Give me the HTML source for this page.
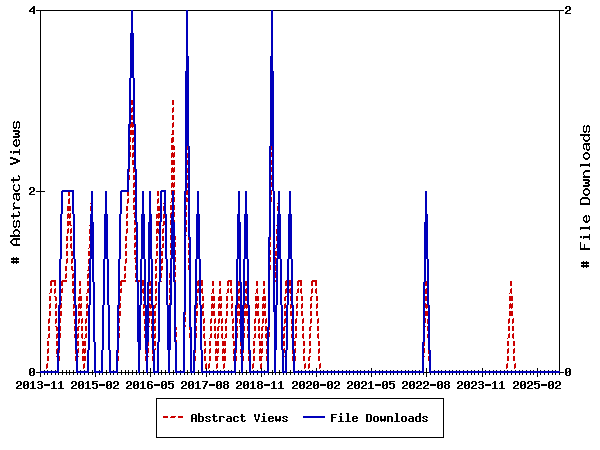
<!DOCTYPE html>
<html lang="en"><head><meta charset="utf-8"><title>Abstract Views and File Downloads per month</title>
<style>
html,body{margin:0;padding:0;background:#fff;}
body{width:600px;height:450px;overflow:hidden;}
svg{display:block;}
text{font-family:"Liberation Mono",monospace;font-weight:bold;font-size:11.67px;fill:#000;fill-opacity:0;stroke:none;}
text.g{font-size:15px;}
</style></head><body>
<svg width="600" height="450" viewBox="0 0 600 450" role="img" aria-label="Line chart: Abstract Views (red dashed) and File Downloads (blue) per month, 2013-11 to 2025-08">
<rect width="600" height="450" fill="#fff"/>
<g shape-rendering="crispEdges">
<path fill="#000" d="M10 241h1v2h-1zM10 151h2v2h-2zM11 240h1v4h-1zM10 157h3v2h-3zM10 163h3v2h-3zM11 179h2v2h-2zM11 215h2v2h-2zM12 239h1v2h-1zM12 243h1v2h-1zM11 258h2v2h-2zM11 261h2v2h-2zM13 122h1v6h-1zM13 141h1v4h-1zM13 151h1v3h-1zM13 177h1v6h-1zM13 185h1v5h-1zM13 194h1v5h-1zM13 203h1v4h-1zM13 208h1v2h-1zM13 213h1v6h-1zM13 221h1v6h-1zM13 231h1v3h-1zM10 235h4v2h-4zM13 257h1v7h-1zM14 121h1v2h-1zM14 140h1v2h-1zM14 144h1v2h-1zM14 184h1v2h-1zM14 189h1v2h-1zM14 198h1v2h-1zM14 202h1v2h-1zM14 206h1v3h-1zM14 220h1v2h-1zM14 230h1v2h-1zM14 234h1v3h-1zM14 127h2v2h-2zM15 139h1v2h-1zM15 145h1v2h-1zM13 158h3v2h-3zM13 162h3v2h-3zM14 193h2v2h-2zM14 226h2v2h-2zM13 238h3v2h-3zM13 244h3v2h-3zM14 258h2v2h-2zM14 261h2v2h-2zM16 122h1v6h-1zM16 139h1v8h-1zM16 193h1v7h-1zM16 221h1v6h-1zM16 238h1v8h-1zM16 257h1v7h-1zM16 382h1v2h-1zM16 387h1v2h-1zM13 130h5v2h-5zM15 133h3v2h-3zM13 136h5v2h-5zM17 145h1v2h-1zM16 159h2v4h-2zM15 190h3v2h-3zM17 193h1v2h-1zM15 229h3v2h-3zM15 235h3v2h-3zM17 381h1v3h-1zM17 386h1v3h-1zM17 121h2v2h-2zM18 127h1v2h-1zM18 130h1v8h-1zM18 139h1v2h-1zM18 144h1v2h-1zM14 151h5v2h-5zM18 175h1v2h-1zM14 179h5v2h-5zM18 184h1v2h-1zM18 189h1v2h-1zM18 193h1v3h-1zM17 199h2v2h-2zM18 211h1v2h-1zM14 215h5v2h-5zM17 220h2v2h-2zM18 226h1v2h-1zM18 230h1v2h-1zM18 234h1v3h-1zM17 258h2v2h-2zM17 261h2v2h-2zM18 385h1v2h-1zM19 122h1v6h-1zM19 131h1v2h-1zM19 135h1v2h-1zM19 140h1v5h-1zM19 149h1v6h-1zM18 160h2v2h-2zM19 176h1v4h-1zM19 185h1v5h-1zM19 193h1v2h-1zM19 196h1v4h-1zM15 207h5v2h-5zM19 212h1v4h-1zM19 221h1v6h-1zM19 231h1v3h-1zM19 235h1v2h-1zM17 238h3v2h-3zM17 244h3v2h-3zM18 381h2v1h-2zM19 385h1v1h-1zM20 381h1v5h-1zM21 382h1v3h-1zM18 388h4v1h-4zM23 382h1v6h-1zM24 381h1v8h-1zM25 385h1v1h-1zM25 381h2v1h-2zM26 384h1v1h-1zM25 388h2v1h-2zM27 381h1v8h-1zM28 382h1v6h-1zM29 10h1v2h-1zM29 188h1v2h-1zM29 193h1v2h-1zM29 369h1v6h-1zM30 9h1v3h-1zM30 187h1v3h-1zM30 192h1v3h-1zM30 368h1v8h-1zM30 383h1v1h-1zM31 8h1v2h-1zM31 191h1v2h-1zM31 372h1v1h-1zM31 382h1v1h-1zM30 388h2v1h-2zM32 7h1v2h-1zM31 11h2v1h-2zM31 187h2v1h-2zM32 191h1v1h-1zM31 368h2v1h-2zM32 371h1v1h-1zM31 375h2v1h-2zM33 187h1v5h-1zM33 368h1v8h-1zM32 381h2v8h-2zM33 6h2v8h-2zM34 188h1v3h-1zM31 194h4v1h-4zM34 369h1v6h-1zM34 388h2v1h-2zM37 382h1v1h-1zM37 387h1v1h-1zM38 381h1v2h-1zM38 387h1v2h-1zM36 10h4v1h-4zM36 191h4v1h-4zM36 372h4v1h-4zM40 10h1v361h-1zM40 373h1v4h-1zM39 381h2v1h-2zM38 384h3v1h-3zM39 388h2v1h-2zM41 381h1v8h-1zM42 382h1v2h-1zM42 385h1v3h-1zM41 191h4v1h-4zM44 370h1v1h-1zM44 373h1v2h-1zM47 370h1v1h-1zM47 373h1v2h-1zM44 384h6v2h-6zM51 370h1v1h-1zM51 373h1v2h-1zM51 383h1v1h-1zM52 382h1v1h-1zM51 388h2v1h-2zM53 381h2v8h-2zM55 370h1v1h-1zM55 373h1v2h-1zM55 388h2v1h-2zM58 373h1v2h-1zM58 383h1v1h-1zM59 382h1v1h-1zM58 388h2v1h-2zM59 372h3v1h-3zM60 381h2v8h-2zM62 370h1v5h-1zM62 388h2v1h-2zM63 372h3v1h-3zM66 370h1v5h-1zM67 372h2v1h-2zM69 370h1v5h-1zM71 382h1v2h-1zM71 387h1v2h-1zM70 372h3v1h-3zM72 381h1v3h-1zM72 386h1v3h-1zM73 370h1v5h-1zM73 385h1v2h-1zM73 381h2v1h-2zM74 385h1v1h-1zM74 372h2v1h-2zM75 381h1v5h-1zM76 382h1v3h-1zM73 388h4v1h-4zM77 373h1v2h-1zM78 382h1v6h-1zM79 381h1v8h-1zM80 370h1v1h-1zM80 373h1v2h-1zM80 385h1v1h-1zM80 381h2v1h-2zM81 384h1v1h-1zM80 388h2v1h-2zM82 381h1v8h-1zM83 382h1v6h-1zM84 370h1v1h-1zM84 373h1v2h-1zM85 383h1v1h-1zM86 382h1v1h-1zM85 388h2v1h-2zM88 373h1v2h-1zM87 381h2v8h-2zM89 388h2v1h-2zM89 372h3v1h-3zM92 370h1v5h-1zM92 387h1v1h-1zM93 372h1v1h-1zM92 381h2v4h-2zM93 387h1v2h-1zM95 373h1v4h-1zM94 383h2v1h-2zM94 388h2v1h-2zM96 383h1v6h-1zM94 381h4v1h-4zM97 384h1v4h-1zM99 370h1v1h-1zM99 373h1v2h-1zM102 373h1v2h-1zM99 384h6v2h-6zM103 372h3v1h-3zM106 370h1v5h-1zM106 382h1v6h-1zM107 381h1v8h-1zM107 372h2v1h-2zM108 385h1v1h-1zM108 381h2v1h-2zM109 384h1v1h-1zM108 388h2v1h-2zM110 373h1v2h-1zM110 381h1v8h-1zM111 382h1v6h-1zM113 370h1v1h-1zM113 373h1v2h-1zM113 382h1v2h-1zM113 387h1v2h-1zM114 381h1v3h-1zM114 386h1v3h-1zM115 385h1v2h-1zM115 381h2v1h-2zM116 385h1v1h-1zM117 373h1v2h-1zM117 381h1v5h-1zM118 382h1v3h-1zM115 388h4v1h-4zM118 372h3v1h-3zM121 370h1v5h-1zM122 372h3v1h-3zM125 370h1v5h-1zM126 382h1v2h-1zM126 387h1v2h-1zM126 372h2v1h-2zM127 381h1v3h-1zM127 386h1v3h-1zM128 370h1v5h-1zM128 385h1v2h-1zM128 381h2v1h-2zM129 385h1v1h-1zM41 10h90v1h-90zM130 381h1v5h-1zM129 372h3v1h-3zM131 382h1v3h-1zM128 388h4v1h-4zM132 370h1v5h-1zM133 382h1v6h-1zM134 381h1v8h-1zM133 372h3v1h-3zM135 385h1v1h-1zM136 370h1v5h-1zM135 381h2v1h-2zM136 384h1v1h-1zM135 388h2v1h-2zM137 372h1v1h-1zM137 381h1v8h-1zM138 382h1v6h-1zM139 373h1v2h-1zM140 383h1v1h-1zM141 382h1v1h-1zM140 388h2v1h-2zM140 372h3v1h-3zM143 370h1v5h-1zM142 381h2v8h-2zM144 372h2v1h-2zM144 388h2v1h-2zM147 373h1v2h-1zM147 382h1v6h-1zM148 381h1v8h-1zM148 372h2v1h-2zM150 368h1v9h-1zM149 381h2v1h-2zM149 384h2v1h-2zM149 388h2v1h-2zM151 381h1v2h-1zM151 384h1v5h-1zM151 372h2v1h-2zM152 382h1v1h-1zM152 385h1v3h-1zM154 373h1v2h-1zM156 398h1v40h-1zM158 373h1v2h-1zM154 384h6v2h-6zM159 372h2v1h-2zM161 370h1v5h-1zM161 382h1v6h-1zM162 381h1v8h-1zM163 385h1v1h-1zM162 372h3v1h-3zM163 381h2v1h-2zM164 384h1v1h-1zM163 388h2v1h-2zM165 370h1v5h-1zM165 381h1v8h-1zM166 382h1v6h-1zM166 372h2v1h-2zM168 387h1v1h-1zM169 373h1v2h-1zM168 381h2v4h-2zM169 387h1v2h-1zM170 383h2v1h-2zM170 388h2v1h-2zM170 372h3v1h-3zM172 383h1v6h-1zM173 370h1v5h-1zM170 381h4v1h-4zM173 384h1v4h-1zM174 372h1v1h-1zM176 373h1v2h-1zM180 370h1v1h-1zM180 373h1v2h-1zM181 382h1v2h-1zM181 387h1v2h-1zM182 381h1v3h-1zM182 386h1v3h-1zM183 385h1v2h-1zM184 373h1v2h-1zM183 381h2v1h-2zM184 385h1v1h-1zM133 10h53v1h-53zM185 381h1v5h-1zM185 372h2v1h-2zM186 382h1v3h-1zM183 388h4v1h-4zM187 370h1v5h-1zM188 382h1v6h-1zM188 372h2v1h-2zM189 381h1v8h-1zM190 385h1v1h-1zM191 373h1v2h-1zM190 381h2v1h-2zM191 384h1v1h-1zM190 388h2v1h-2zM191 415h1v7h-1zM192 381h1v8h-1zM192 414h1v8h-1zM193 382h1v6h-1zM194 373h1v2h-1zM193 414h2v1h-2zM193 418h2v1h-2zM195 383h1v1h-1zM195 414h1v8h-1zM196 382h1v1h-1zM195 388h2v1h-2zM196 415h1v7h-1zM195 372h3v1h-3zM198 370h1v5h-1zM197 381h2v8h-2zM198 413h2v9h-2zM199 372h2v1h-2zM199 388h2v1h-2zM200 416h2v1h-2zM200 421h2v1h-2zM202 373h1v2h-1zM202 416h1v6h-1zM203 387h1v2h-1zM203 417h1v4h-1zM204 385h1v4h-1zM202 381h4v1h-4zM205 383h1v4h-1zM205 417h1v1h-1zM205 420h1v1h-1zM206 368h1v3h-1zM206 373h1v4h-1zM206 381h1v4h-1zM206 416h1v3h-1zM206 420h1v2h-1zM207 381h1v2h-1zM207 418h1v1h-1zM207 416h2v1h-2zM208 419h1v1h-1zM207 421h2v1h-2zM209 370h1v1h-1zM209 373h1v2h-1zM209 416h1v2h-1zM209 419h1v3h-1zM210 417h1v1h-1zM210 420h1v1h-1zM212 416h1v1h-1zM213 370h1v1h-1zM213 373h1v2h-1zM213 414h1v7h-1zM209 384h6v2h-6zM214 414h1v8h-1zM215 421h1v1h-1zM216 382h1v6h-1zM215 416h2v1h-2zM216 420h1v2h-1zM217 370h1v1h-1zM217 373h1v2h-1zM217 381h1v8h-1zM217 420h1v1h-1zM218 385h1v1h-1zM218 381h2v1h-2zM219 384h1v1h-1zM218 388h2v1h-2zM220 370h1v1h-1zM220 373h1v2h-1zM220 381h1v8h-1zM219 416h2v6h-2zM221 382h1v6h-1zM221 416h2v1h-2zM223 382h1v2h-1zM223 385h1v3h-1zM223 416h1v2h-1zM224 370h1v1h-1zM224 373h1v2h-1zM224 381h1v8h-1zM224 417h1v1h-1zM225 381h2v1h-2zM225 384h2v1h-2zM225 388h2v1h-2zM226 419h1v2h-1zM227 381h1v8h-1zM227 418h1v4h-1zM228 370h1v1h-1zM228 373h1v2h-1zM228 382h1v2h-1zM228 385h1v3h-1zM227 416h3v1h-3zM228 418h2v1h-2zM228 421h2v1h-2zM230 416h1v6h-1zM231 370h1v1h-1zM231 373h1v2h-1zM231 417h1v5h-1zM233 417h1v4h-1zM234 416h1v6h-1zM235 373h1v2h-1zM236 382h1v2h-1zM236 387h1v2h-1zM235 416h2v1h-2zM235 421h2v1h-2zM237 381h1v3h-1zM237 386h1v3h-1zM237 416h1v2h-1zM237 420h1v2h-1zM236 372h3v1h-3zM238 385h1v2h-1zM238 417h1v1h-1zM238 420h1v1h-1zM239 370h1v5h-1zM238 381h2v1h-2zM239 385h1v1h-1zM240 372h1v1h-1zM240 381h1v5h-1zM240 416h1v1h-1zM241 382h1v3h-1zM238 388h4v1h-4zM241 414h1v7h-1zM242 373h1v2h-1zM242 414h1v8h-1zM243 382h1v6h-1zM243 421h1v1h-1zM244 381h1v8h-1zM243 416h2v1h-2zM244 420h1v2h-1zM243 372h3v1h-3zM245 385h1v1h-1zM245 420h1v1h-1zM246 370h1v5h-1zM245 381h2v1h-2zM246 384h1v1h-1zM245 388h2v1h-2zM247 381h1v8h-1zM247 372h2v1h-2zM248 382h1v6h-1zM250 373h1v2h-1zM250 383h1v1h-1zM251 382h1v1h-1zM250 388h2v1h-2zM253 370h1v1h-1zM253 373h1v2h-1zM252 381h2v8h-2zM254 414h1v3h-1zM254 388h2v1h-2zM255 414h1v6h-1zM257 370h1v1h-1zM257 373h1v2h-1zM257 382h1v2h-1zM257 385h1v3h-1zM256 419h2v3h-2zM258 381h1v8h-1zM258 414h1v6h-1zM259 414h1v3h-1zM259 381h2v1h-2zM259 384h2v1h-2zM259 388h2v1h-2zM261 368h1v3h-1zM261 373h1v4h-1zM261 381h1v8h-1zM262 382h1v2h-1zM262 385h1v3h-1zM262 416h1v1h-1zM261 421h2v1h-2zM264 370h1v1h-1zM264 373h1v2h-1zM263 413h2v2h-2zM263 416h2v6h-2zM265 421h2v1h-2zM268 373h1v2h-1zM268 417h1v4h-1zM264 384h6v2h-6zM269 416h1v6h-1zM188 10h83v1h-83zM269 372h3v1h-3zM271 383h1v1h-1zM270 416h2v1h-2zM270 418h2v1h-2zM270 421h2v1h-2zM272 370h1v5h-1zM272 382h1v1h-1zM271 388h2v1h-2zM272 416h1v3h-1zM272 420h1v2h-1zM273 372h1v1h-1zM273 417h1v2h-1zM273 420h1v1h-1zM273 381h2v8h-2zM275 373h1v2h-1zM275 416h1v5h-1zM275 388h2v1h-2zM276 416h1v6h-1zM276 372h3v1h-3zM278 383h1v1h-1zM277 419h2v2h-2zM279 370h1v5h-1zM279 382h1v1h-1zM278 388h2v1h-2zM279 416h1v6h-1zM280 416h1v5h-1zM280 372h2v1h-2zM280 381h2v8h-2zM282 417h1v1h-1zM282 420h1v1h-1zM283 373h1v2h-1zM282 388h2v1h-2zM283 416h1v3h-1zM283 420h1v2h-1zM284 418h1v1h-1zM284 416h2v1h-2zM285 419h1v1h-1zM284 421h2v1h-2zM286 373h1v2h-1zM286 416h1v2h-1zM286 419h1v3h-1zM287 417h1v1h-1zM287 420h1v1h-1zM287 372h3v1h-3zM290 370h1v5h-1zM291 372h2v1h-2zM292 382h1v2h-1zM292 387h1v2h-1zM293 381h1v3h-1zM293 386h1v3h-1zM294 373h1v2h-1zM294 385h1v2h-1zM294 381h2v1h-2zM295 385h1v1h-1zM296 381h1v5h-1zM297 382h1v3h-1zM294 388h4v1h-4zM298 370h1v1h-1zM298 373h1v2h-1zM299 382h1v6h-1zM300 381h1v8h-1zM301 370h1v1h-1zM301 373h1v2h-1zM301 385h1v1h-1zM301 381h2v1h-2zM302 384h1v1h-1zM301 388h2v1h-2zM303 381h1v8h-1zM304 382h1v6h-1zM305 370h1v1h-1zM305 373h1v2h-1zM306 382h1v2h-1zM306 387h1v2h-1zM307 381h1v3h-1zM307 386h1v3h-1zM308 385h1v2h-1zM309 370h1v1h-1zM309 373h1v2h-1zM308 381h2v1h-2zM309 385h1v1h-1zM310 381h1v5h-1zM311 382h1v3h-1zM308 388h4v1h-4zM312 370h1v1h-1zM312 373h1v2h-1zM313 382h1v6h-1zM314 381h1v8h-1zM315 385h1v1h-1zM316 368h1v3h-1zM316 373h1v4h-1zM315 381h2v1h-2zM316 384h1v1h-1zM315 388h2v1h-2zM317 381h1v8h-1zM318 382h1v6h-1zM320 370h1v1h-1zM320 373h1v2h-1zM323 370h1v1h-1zM323 373h1v2h-1zM320 384h6v2h-6zM327 370h1v1h-1zM327 373h1v2h-1zM327 382h1v6h-1zM328 381h1v8h-1zM329 385h1v1h-1zM329 381h2v1h-2zM330 384h1v1h-1zM329 388h2v1h-2zM331 370h1v1h-1zM331 373h1v2h-1zM331 381h1v8h-1zM332 382h1v6h-1zM331 414h2v8h-2zM334 370h1v1h-1zM334 373h1v2h-1zM334 382h1v2h-1zM334 387h1v2h-1zM335 381h1v3h-1zM335 386h1v3h-1zM333 417h3v1h-3zM336 385h1v2h-1zM333 414h4v1h-4zM336 381h2v1h-2zM337 385h1v1h-1zM338 370h1v1h-1zM338 373h1v2h-1zM338 381h1v5h-1zM339 382h1v3h-1zM336 388h4v1h-4zM339 416h1v1h-1zM338 421h2v1h-2zM340 413h2v2h-2zM340 416h2v6h-2zM342 370h1v1h-1zM342 373h1v2h-1zM342 421h2v1h-2zM346 370h1v1h-1zM346 373h1v2h-1zM346 413h1v1h-1zM345 421h2v1h-2zM347 382h1v2h-1zM347 387h1v2h-1zM348 381h1v3h-1zM348 386h1v3h-1zM347 413h2v9h-2zM349 370h1v1h-1zM349 373h1v2h-1zM349 385h1v2h-1zM349 381h2v1h-2zM350 385h1v1h-1zM349 421h2v1h-2zM351 381h1v5h-1zM352 382h1v3h-1zM349 388h4v1h-4zM352 417h1v4h-1zM353 370h1v1h-1zM353 373h1v2h-1zM353 416h1v6h-1zM354 382h1v6h-1zM355 381h1v8h-1zM354 416h2v1h-2zM354 418h2v1h-2zM354 421h2v1h-2zM356 385h1v1h-1zM356 416h1v3h-1zM356 420h1v2h-1zM357 370h1v1h-1zM357 373h1v2h-1zM356 381h2v1h-2zM357 384h1v1h-1zM356 388h2v1h-2zM357 417h1v2h-1zM357 420h1v1h-1zM358 381h1v8h-1zM359 382h1v6h-1zM360 370h1v1h-1zM360 373h1v2h-1zM361 382h1v2h-1zM361 387h1v2h-1zM362 381h1v3h-1zM362 386h1v3h-1zM363 385h1v2h-1zM364 370h1v1h-1zM364 373h1v2h-1zM363 381h2v1h-2zM364 385h1v1h-1zM365 381h1v5h-1zM366 382h1v3h-1zM363 388h4v1h-4zM366 414h2v8h-2zM368 370h1v1h-1zM368 373h1v2h-1zM368 383h1v1h-1zM369 382h1v1h-1zM368 388h2v1h-2zM368 414h2v1h-2zM368 421h2v1h-2zM370 414h1v8h-1zM371 368h1v3h-1zM371 373h1v4h-1zM370 381h2v8h-2zM371 415h1v6h-1zM372 388h2v1h-2zM373 417h1v4h-1zM374 416h1v6h-1zM375 370h1v1h-1zM375 373h1v2h-1zM375 416h2v1h-2zM375 421h2v1h-2zM377 416h1v6h-1zM378 417h1v4h-1zM379 370h1v1h-1zM379 373h1v2h-1zM375 384h6v2h-6zM380 416h1v5h-1zM381 416h1v6h-1zM382 370h1v1h-1zM382 373h1v2h-1zM382 382h1v6h-1zM383 381h1v8h-1zM382 419h2v2h-2zM384 385h1v1h-1zM384 416h1v6h-1zM384 381h2v1h-2zM385 384h1v1h-1zM384 388h2v1h-2zM385 416h1v5h-1zM386 370h1v1h-1zM386 373h1v2h-1zM386 381h1v8h-1zM387 382h1v6h-1zM387 416h2v6h-2zM389 387h1v1h-1zM390 370h1v1h-1zM390 373h1v2h-1zM389 381h2v4h-2zM390 387h1v2h-1zM389 416h2v1h-2zM391 416h1v6h-1zM391 383h2v1h-2zM391 388h2v1h-2zM392 417h1v5h-1zM393 370h1v1h-1zM393 373h1v2h-1zM393 383h1v6h-1zM391 381h4v1h-4zM394 384h1v4h-1zM395 413h1v1h-1zM394 421h2v1h-2zM397 370h1v1h-1zM397 373h1v2h-1zM396 413h2v9h-2zM398 421h2v1h-2zM401 370h1v1h-1zM401 373h1v2h-1zM401 417h1v4h-1zM402 382h1v2h-1zM402 387h1v2h-1zM402 416h1v6h-1zM403 381h1v3h-1zM403 386h1v3h-1zM404 385h1v2h-1zM403 416h2v1h-2zM403 421h2v1h-2zM405 370h1v1h-1zM405 373h1v2h-1zM404 381h2v1h-2zM405 385h1v1h-1zM405 416h1v6h-1zM406 381h1v5h-1zM406 417h1v4h-1zM407 382h1v3h-1zM404 388h4v1h-4zM408 370h1v1h-1zM408 373h1v2h-1zM408 419h1v2h-1zM409 382h1v6h-1zM409 418h1v4h-1zM410 381h1v8h-1zM411 385h1v1h-1zM409 416h3v1h-3zM410 418h2v1h-2zM410 421h2v1h-2zM412 370h1v1h-1zM412 373h1v2h-1zM411 381h2v1h-2zM412 384h1v1h-1zM411 388h2v1h-2zM412 416h1v6h-1zM413 381h1v8h-1zM413 417h1v5h-1zM414 382h1v6h-1zM415 370h1v1h-1zM415 373h1v2h-1zM415 417h1v4h-1zM416 382h1v2h-1zM416 387h1v2h-1zM416 416h1v6h-1zM417 381h1v3h-1zM417 386h1v3h-1zM418 385h1v2h-1zM417 416h2v1h-2zM417 421h2v1h-2zM419 370h1v1h-1zM419 373h1v2h-1zM418 381h2v1h-2zM419 385h1v1h-1zM420 381h1v5h-1zM419 413h2v9h-2zM421 382h1v3h-1zM418 388h4v1h-4zM422 417h1v1h-1zM422 420h1v1h-1zM423 373h1v2h-1zM423 382h1v2h-1zM423 387h1v2h-1zM423 416h1v3h-1zM423 420h1v2h-1zM424 381h1v3h-1zM424 386h1v3h-1zM424 418h1v1h-1zM424 372h2v1h-2zM425 385h1v2h-1zM424 416h2v1h-2zM425 419h1v1h-1zM424 421h2v1h-2zM426 368h1v9h-1zM425 381h2v1h-2zM426 385h1v1h-1zM426 416h1v2h-1zM426 419h1v3h-1zM427 381h1v5h-1zM427 417h1v1h-1zM427 420h1v1h-1zM427 372h2v1h-2zM428 382h1v3h-1zM425 388h4v1h-4zM430 373h1v2h-1zM434 370h1v1h-1zM434 373h1v2h-1zM430 384h6v2h-6zM437 382h1v6h-1zM438 370h1v1h-1zM438 373h1v2h-1zM438 381h1v8h-1zM439 385h1v1h-1zM439 381h2v1h-2zM440 384h1v1h-1zM439 388h2v1h-2zM441 370h1v1h-1zM441 373h1v2h-1zM441 381h1v8h-1zM442 382h1v6h-1zM157 398h286v1h-286zM157 437h286v1h-286zM443 398h1v40h-1zM444 382h1v2h-1zM444 385h1v3h-1zM445 370h1v1h-1zM445 373h1v2h-1zM445 381h1v8h-1zM446 381h2v1h-2zM446 384h2v1h-2zM446 388h2v1h-2zM448 381h1v8h-1zM449 370h1v1h-1zM449 373h1v2h-1zM449 382h1v2h-1zM449 385h1v3h-1zM452 370h1v1h-1zM452 373h1v2h-1zM456 370h1v1h-1zM456 373h1v2h-1zM457 382h1v2h-1zM457 387h1v2h-1zM458 381h1v3h-1zM458 386h1v3h-1zM459 370h1v1h-1zM459 373h1v2h-1zM459 385h1v2h-1zM459 381h2v1h-2zM460 385h1v1h-1zM461 381h1v5h-1zM462 382h1v3h-1zM459 388h4v1h-4zM463 370h1v1h-1zM463 373h1v2h-1zM464 382h1v6h-1zM465 381h1v8h-1zM466 385h1v1h-1zM467 370h1v1h-1zM467 373h1v2h-1zM466 381h2v1h-2zM467 384h1v1h-1zM466 388h2v1h-2zM468 381h1v8h-1zM469 382h1v6h-1zM471 370h1v1h-1zM471 373h1v2h-1zM471 382h1v2h-1zM471 387h1v2h-1zM472 381h1v3h-1zM472 386h1v3h-1zM473 385h1v2h-1zM474 370h1v1h-1zM474 373h1v2h-1zM473 381h2v1h-2zM474 385h1v1h-1zM475 381h1v5h-1zM476 382h1v3h-1zM473 388h4v1h-4zM478 370h1v1h-1zM478 373h1v2h-1zM478 382h1v1h-1zM478 387h1v1h-1zM479 381h1v2h-1zM479 387h1v2h-1zM480 381h2v1h-2zM479 384h3v1h-3zM480 388h2v1h-2zM482 368h1v3h-1zM482 373h1v4h-1zM482 381h1v8h-1zM483 382h1v2h-1zM483 385h1v3h-1zM485 370h1v1h-1zM485 373h1v2h-1zM489 370h1v1h-1zM489 373h1v2h-1zM485 384h6v2h-6zM492 383h1v1h-1zM493 370h1v1h-1zM493 373h1v2h-1zM493 382h1v1h-1zM492 388h2v1h-2zM494 381h2v8h-2zM496 370h1v1h-1zM496 373h1v2h-1zM496 388h2v1h-2zM499 383h1v1h-1zM500 370h1v1h-1zM500 373h1v2h-1zM500 382h1v1h-1zM499 388h2v1h-2zM501 381h2v8h-2zM504 370h1v1h-1zM504 373h1v2h-1zM503 388h2v1h-2zM507 370h1v1h-1zM507 373h1v2h-1zM511 370h1v1h-1zM511 373h1v2h-1zM513 382h1v2h-1zM513 387h1v2h-1zM514 381h1v3h-1zM514 386h1v3h-1zM515 370h1v1h-1zM515 373h1v2h-1zM515 385h1v2h-1zM515 381h2v1h-2zM516 385h1v1h-1zM517 381h1v5h-1zM518 382h1v3h-1zM515 388h4v1h-4zM519 370h1v1h-1zM519 373h1v2h-1zM520 382h1v6h-1zM521 381h1v8h-1zM522 370h1v1h-1zM522 373h1v2h-1zM522 385h1v1h-1zM522 381h2v1h-2zM523 384h1v1h-1zM522 388h2v1h-2zM524 381h1v8h-1zM525 382h1v6h-1zM526 370h1v1h-1zM526 373h1v2h-1zM527 382h1v2h-1zM527 387h1v2h-1zM528 381h1v3h-1zM528 386h1v3h-1zM529 385h1v2h-1zM530 370h1v1h-1zM530 373h1v2h-1zM529 381h2v1h-2zM530 385h1v1h-1zM531 381h1v5h-1zM532 382h1v3h-1zM529 388h4v1h-4zM533 370h1v1h-1zM533 373h1v2h-1zM534 387h1v1h-1zM534 381h2v4h-2zM535 387h1v2h-1zM537 368h1v3h-1zM537 373h1v4h-1zM536 383h2v1h-2zM536 388h2v1h-2zM538 383h1v6h-1zM536 381h4v1h-4zM539 384h1v4h-1zM540 370h1v1h-1zM540 373h1v2h-1zM544 370h1v1h-1zM544 373h1v2h-1zM541 384h6v2h-6zM548 370h1v1h-1zM548 373h1v2h-1zM548 382h1v6h-1zM549 381h1v8h-1zM550 385h1v1h-1zM550 381h2v1h-2zM551 384h1v1h-1zM550 388h2v1h-2zM552 370h1v1h-1zM552 373h1v2h-1zM552 381h1v8h-1zM553 382h1v6h-1zM555 370h1v1h-1zM555 373h1v2h-1zM555 382h1v2h-1zM555 387h1v2h-1zM556 381h1v3h-1zM556 386h1v3h-1zM557 385h1v2h-1zM273 10h286v1h-286zM557 381h2v1h-2zM558 385h1v1h-1zM559 10h1v361h-1zM559 373h1v2h-1zM559 381h1v5h-1zM560 382h1v3h-1zM557 388h4v1h-4zM560 10h4v1h-4zM560 372h4v1h-4zM565 7h1v2h-1zM565 12h1v2h-1zM565 369h1v6h-1zM566 6h1v3h-1zM566 11h1v3h-1zM566 368h1v8h-1zM567 10h1v2h-1zM567 372h1v1h-1zM567 6h2v1h-2zM568 10h1v1h-1zM567 368h2v1h-2zM568 371h1v1h-1zM567 375h2v1h-2zM569 6h1v5h-1zM569 368h1v8h-1zM570 7h1v3h-1zM567 13h4v1h-4zM570 369h1v6h-1zM580 164h1v3h-1zM580 199h1v6h-1zM580 227h1v3h-1zM580 242h1v8h-1zM581 198h1v2h-1zM580 236h2v2h-2zM581 262h2v2h-2zM581 265h2v2h-2zM583 126h1v6h-1zM580 134h4v2h-4zM583 137h1v3h-1zM583 144h1v5h-1zM583 154h1v4h-1zM583 172h1v3h-1zM583 176h1v2h-1zM583 190h1v4h-1zM583 217h1v4h-1zM583 236h1v3h-1zM581 248h3v2h-3zM583 261h1v7h-1zM584 125h1v2h-1zM584 134h1v3h-1zM584 139h1v2h-1zM584 148h1v2h-1zM584 153h1v2h-1zM584 157h1v2h-1zM584 171h1v2h-1zM584 175h1v3h-1zM584 189h1v2h-1zM584 193h1v2h-1zM584 216h1v2h-1zM584 220h1v2h-1zM584 244h1v6h-1zM584 131h2v2h-2zM584 143h2v2h-2zM585 215h1v2h-1zM585 221h1v2h-1zM584 262h2v2h-2zM584 265h2v2h-2zM586 126h1v6h-1zM586 143h1v7h-1zM586 215h1v8h-1zM586 261h1v7h-1zM585 134h3v2h-3zM585 140h3v2h-3zM587 143h1v2h-1zM585 152h3v2h-3zM585 158h3v2h-3zM583 179h5v2h-5zM585 182h3v2h-3zM583 185h5v2h-5zM585 188h3v2h-3zM585 194h3v2h-3zM582 197h6v2h-6zM587 221h1v2h-1zM587 125h2v2h-2zM588 131h1v2h-1zM588 134h1v3h-1zM588 139h1v2h-1zM588 143h1v3h-1zM587 149h2v2h-2zM588 153h1v2h-1zM588 157h1v2h-1zM581 164h8v2h-8zM588 179h1v8h-1zM588 189h1v2h-1zM588 193h1v2h-1zM588 198h1v2h-1zM581 203h8v2h-8zM588 215h1v2h-1zM588 220h1v2h-1zM581 227h8v2h-8zM584 236h5v2h-5zM587 262h2v2h-2zM587 265h2v2h-2zM589 126h1v6h-1zM589 134h1v2h-1zM589 137h1v3h-1zM589 143h1v2h-1zM589 146h1v4h-1zM589 154h1v4h-1zM589 163h1v4h-1zM585 170h5v2h-5zM585 176h5v2h-5zM589 180h1v2h-1zM589 184h1v2h-1zM589 190h1v4h-1zM589 199h1v6h-1zM589 216h1v5h-1zM589 226h1v4h-1zM589 234h1v6h-1zM585 248h5v2h-5z"/>
<path fill="#cc0000" d="M46 364h1v5h-1zM47 338h1v1h-1zM47 349h1v5h-1zM47 363h1v5h-1zM48 319h1v5h-1zM48 334h1v4h-1zM47 341h2v5h-2zM48 348h1v5h-1zM47 356h2v5h-2zM49 293h1v1h-1zM49 304h1v5h-1zM49 318h1v5h-1zM48 326h2v5h-2zM49 333h1v5h-1zM50 281h1v5h-1zM50 289h1v4h-1zM49 296h2v5h-2zM50 303h1v5h-1zM49 311h2v5h-2zM51 280h1v6h-1zM51 288h1v5h-1zM52 280h2v2h-2zM54 289h1v5h-1zM54 296h1v1h-1zM54 280h2v6h-2zM55 288h1v5h-1zM55 296h1v5h-1zM55 304h1v5h-1zM55 319h1v5h-1zM55 326h1v1h-1zM56 297h1v4h-1zM56 303h1v5h-1zM55 311h2v5h-2zM56 318h1v5h-1zM56 326h1v5h-1zM56 334h1v5h-1zM56 349h1v5h-1zM56 356h1v1h-1zM57 327h1v4h-1zM57 333h1v5h-1zM56 341h2v5h-2zM57 348h1v2h-1zM59 350h1v3h-1zM59 356h1v5h-1zM60 305h1v4h-1zM60 318h1v5h-1zM60 326h1v5h-1zM60 333h1v5h-1zM61 281h1v5h-1zM61 289h1v4h-1zM61 296h1v5h-1zM61 303h1v5h-1zM60 311h2v5h-2zM62 280h1v6h-1zM62 288h1v5h-1zM65 274h1v5h-1zM66 244h1v5h-1zM66 259h1v5h-1zM65 266h2v5h-2zM66 273h1v5h-1zM63 280h4v2h-4zM67 214h1v5h-1zM67 229h1v5h-1zM66 236h2v5h-2zM67 243h1v5h-1zM66 251h2v5h-2zM67 258h1v5h-1zM68 199h1v5h-1zM68 213h1v5h-1zM67 221h2v5h-2zM68 228h1v5h-1zM68 192h2v4h-2zM69 198h1v6h-1zM69 214h1v5h-1zM69 221h1v4h-1zM67 206h4v5h-4zM70 213h1v5h-1zM70 221h1v5h-1zM70 229h1v5h-1zM70 244h1v4h-1zM71 225h1v1h-1zM71 228h1v5h-1zM70 236h2v5h-2zM71 243h1v6h-1zM71 259h1v5h-1zM71 266h1v4h-1zM71 251h2v5h-2zM72 258h1v5h-1zM72 266h1v5h-1zM72 274h1v5h-1zM72 289h1v4h-1zM73 270h1v1h-1zM73 273h1v5h-1zM72 281h2v5h-2zM73 288h1v6h-1zM73 296h1v5h-1zM73 304h1v5h-1zM74 305h1v3h-1zM73 311h2v5h-2zM74 319h1v5h-1zM74 326h1v5h-1zM74 334h1v4h-1zM75 350h1v4h-1zM75 356h1v5h-1zM77 327h1v4h-1zM77 334h1v5h-1zM77 349h1v1h-1zM78 297h1v4h-1zM78 304h1v5h-1zM78 319h1v5h-1zM78 326h1v5h-1zM78 333h1v5h-1zM77 341h2v5h-2zM78 348h1v5h-1zM78 356h1v1h-1zM79 289h1v5h-1zM79 303h1v5h-1zM79 318h1v5h-1zM79 326h1v1h-1zM79 281h2v5h-2zM80 288h1v6h-1zM80 304h1v5h-1zM79 296h3v5h-3zM81 303h1v5h-1zM78 311h4v5h-4zM81 319h1v5h-1zM81 334h1v4h-1zM82 318h1v5h-1zM81 326h2v5h-2zM82 333h1v6h-1zM82 349h1v5h-1zM83 348h1v5h-1zM83 364h1v5h-1zM84 338h1v1h-1zM84 349h1v5h-1zM84 363h1v5h-1zM85 319h1v5h-1zM85 334h1v4h-1zM82 341h4v5h-4zM85 348h1v5h-1zM82 356h4v5h-4zM86 293h1v1h-1zM86 304h1v5h-1zM86 318h1v5h-1zM85 326h2v5h-2zM86 333h1v5h-1zM87 270h1v1h-1zM87 274h1v5h-1zM87 289h1v4h-1zM86 296h2v5h-2zM87 303h1v5h-1zM86 311h2v5h-2zM88 248h1v1h-1zM88 259h1v5h-1zM88 266h1v5h-1zM88 273h1v5h-1zM87 281h2v5h-2zM88 288h1v5h-1zM89 225h1v1h-1zM89 229h1v5h-1zM89 236h1v5h-1zM89 244h1v4h-1zM88 251h2v5h-2zM89 258h1v1h-1zM90 203h1v1h-1zM90 206h1v5h-1zM118 350h1v3h-1zM118 356h1v5h-1zM119 305h1v4h-1zM119 318h1v5h-1zM119 326h1v5h-1zM119 333h1v5h-1zM120 281h1v5h-1zM120 289h1v4h-1zM120 296h1v5h-1zM120 303h1v5h-1zM119 311h2v5h-2zM121 280h1v6h-1zM121 288h1v5h-1zM124 274h1v5h-1zM125 244h1v5h-1zM125 259h1v5h-1zM124 266h2v5h-2zM125 273h1v5h-1zM122 280h4v2h-4zM126 214h1v5h-1zM126 229h1v5h-1zM125 236h2v5h-2zM126 243h1v5h-1zM125 251h2v5h-2zM126 258h1v5h-1zM127 199h1v5h-1zM126 206h2v5h-2zM127 213h1v5h-1zM126 221h2v5h-2zM127 228h1v5h-1zM127 192h2v4h-2zM128 198h1v5h-1zM129 169h1v3h-1zM129 175h1v5h-1zM130 124h1v4h-1zM130 137h1v5h-1zM130 145h1v5h-1zM130 152h1v5h-1zM131 108h1v5h-1zM131 122h1v5h-1zM131 100h2v5h-2zM132 107h1v5h-1zM131 115h2v5h-2zM132 122h1v6h-1zM132 138h1v5h-1zM132 153h1v5h-1zM133 124h1v3h-1zM130 130h4v5h-4zM133 137h1v5h-1zM132 145h2v5h-2zM133 152h1v5h-1zM132 160h2v5h-2zM133 167h1v6h-1zM133 183h1v5h-1zM133 198h1v5h-1zM133 213h1v1h-1zM134 169h1v3h-1zM133 175h2v5h-2zM134 182h1v5h-1zM133 190h2v5h-2zM134 197h1v5h-1zM133 205h2v5h-2zM134 212h1v6h-1zM134 220h1v5h-1zM134 228h1v5h-1zM134 243h1v5h-1zM134 258h1v1h-1zM135 222h1v3h-1zM135 227h1v5h-1zM134 235h2v5h-2zM135 242h1v5h-1zM134 250h2v5h-2zM135 257h1v6h-1zM135 265h1v5h-1zM135 273h1v5h-1zM135 280h1v2h-1zM138 280h2v2h-2zM142 289h1v4h-1zM142 280h2v6h-2zM143 288h1v6h-1zM143 296h1v5h-1zM143 304h1v5h-1zM144 305h1v3h-1zM143 311h2v5h-2zM144 319h1v5h-1zM144 326h1v5h-1zM144 334h1v4h-1zM145 350h1v4h-1zM145 356h1v5h-1zM148 342h1v4h-1zM148 348h1v5h-1zM148 356h1v1h-1zM149 282h1v4h-1zM149 289h1v5h-1zM149 303h1v5h-1zM149 318h1v5h-1zM149 326h1v1h-1zM150 281h1v5h-1zM150 288h1v6h-1zM149 296h2v5h-2zM150 304h1v5h-1zM151 305h1v3h-1zM149 311h3v5h-3zM151 319h1v5h-1zM151 326h1v5h-1zM151 334h1v4h-1zM152 350h1v4h-1zM152 356h1v5h-1zM154 305h1v4h-1zM154 319h1v5h-1zM154 334h1v5h-1zM154 349h1v1h-1zM155 259h1v5h-1zM155 274h1v5h-1zM155 289h1v5h-1zM155 304h1v4h-1zM154 311h2v5h-2zM155 318h1v5h-1zM154 326h2v5h-2zM155 333h1v5h-1zM154 341h2v5h-2zM155 348h1v2h-1zM156 214h1v5h-1zM156 229h1v5h-1zM156 244h1v5h-1zM156 259h1v4h-1zM155 266h2v5h-2zM156 273h1v5h-1zM155 281h2v5h-2zM156 288h1v5h-1zM155 296h2v5h-2zM156 303h1v2h-1zM157 199h1v5h-1zM157 214h1v4h-1zM157 228h1v5h-1zM156 236h2v5h-2zM157 243h1v5h-1zM156 251h2v5h-2zM157 258h1v1h-1zM157 191h2v5h-2zM158 198h1v5h-1zM158 213h1v6h-1zM156 221h3v5h-3zM158 229h1v5h-1zM157 206h3v5h-3zM159 213h1v5h-1zM159 221h1v1h-1zM161 248h1v1h-1zM161 259h1v5h-1zM161 266h1v5h-1zM161 273h1v5h-1zM161 281h1v1h-1zM162 225h1v1h-1zM162 229h1v5h-1zM162 244h1v4h-1zM161 251h2v5h-2zM162 258h1v5h-1zM162 266h1v4h-1zM163 203h1v1h-1zM163 206h1v5h-1zM163 214h1v5h-1zM163 221h1v5h-1zM163 228h1v5h-1zM162 236h2v5h-2zM163 243h1v5h-1zM164 214h1v4h-1zM164 221h1v4h-1zM163 416h5v2h-5zM169 273h1v5h-1zM169 280h1v5h-1zM169 288h1v5h-1zM169 295h1v5h-1zM169 303h1v2h-1zM170 202h1v1h-1zM170 213h1v5h-1zM170 220h1v5h-1zM170 228h1v5h-1zM170 235h1v5h-1zM170 243h1v5h-1zM170 250h1v5h-1zM170 258h1v1h-1zM170 417h1v1h-1zM171 134h1v1h-1zM171 138h1v5h-1zM171 153h1v5h-1zM171 168h1v5h-1zM171 183h1v5h-1zM171 190h1v5h-1zM171 198h1v4h-1zM170 205h2v5h-2zM171 212h1v2h-1zM172 108h1v5h-1zM172 123h1v5h-1zM172 137h1v6h-1zM172 152h1v5h-1zM172 167h1v5h-1zM172 182h1v5h-1zM172 100h2v5h-2zM173 107h1v5h-1zM172 115h2v5h-2zM173 122h1v5h-1zM172 130h2v5h-2zM173 137h1v5h-1zM171 145h3v5h-3zM173 153h1v5h-1zM173 168h1v5h-1zM173 183h1v5h-1zM172 190h2v1h-2zM174 146h1v4h-1zM174 152h1v5h-1zM171 160h4v5h-4zM174 167h1v5h-1zM171 175h4v5h-4zM174 182h1v5h-1zM174 190h1v5h-1zM174 197h1v5h-1zM174 205h1v5h-1zM174 212h1v5h-1zM174 220h1v2h-1zM171 416h4v2h-4zM175 236h1v4h-1zM175 242h1v5h-1zM175 250h1v5h-1zM175 257h1v5h-1zM175 265h1v5h-1zM175 272h1v5h-1zM175 280h1v2h-1zM175 416h1v1h-1zM176 327h1v3h-1zM176 332h1v5h-1zM176 340h1v2h-1zM178 416h5v2h-5zM185 312h1v3h-1zM185 317h1v5h-1zM185 325h1v2h-1zM186 191h1v4h-1zM186 197h1v5h-1zM186 205h1v5h-1zM186 212h1v5h-1zM186 220h1v5h-1zM186 227h1v5h-1zM186 235h1v1h-1zM187 146h1v4h-1zM187 153h1v5h-1zM187 160h1v5h-1zM187 168h1v5h-1zM187 175h1v5h-1zM187 183h1v5h-1zM187 190h1v5h-1zM187 198h1v4h-1zM188 237h1v3h-1zM188 243h1v5h-1zM188 250h1v5h-1zM188 258h1v5h-1zM188 265h1v5h-1zM189 327h1v3h-1zM189 333h1v5h-1zM195 350h1v3h-1zM195 356h1v5h-1zM196 305h1v4h-1zM196 318h1v5h-1zM196 326h1v5h-1zM196 333h1v5h-1zM197 281h1v5h-1zM197 289h1v4h-1zM197 296h1v5h-1zM197 303h1v5h-1zM196 311h2v5h-2zM198 280h1v6h-1zM198 288h1v5h-1zM201 289h1v4h-1zM201 280h2v6h-2zM202 288h1v6h-1zM202 304h1v5h-1zM202 296h2v5h-2zM203 303h1v5h-1zM202 311h2v5h-2zM203 319h1v5h-1zM203 334h1v4h-1zM204 318h1v5h-1zM203 326h2v5h-2zM204 333h1v6h-1zM204 349h1v5h-1zM204 341h2v5h-2zM205 348h1v5h-1zM204 356h2v5h-2zM205 364h1v5h-1zM206 363h1v5h-1zM208 364h1v5h-1zM209 338h1v1h-1zM209 349h1v5h-1zM209 363h1v5h-1zM210 319h1v5h-1zM210 334h1v4h-1zM209 341h2v5h-2zM210 348h1v5h-1zM209 356h2v5h-2zM211 293h1v1h-1zM211 304h1v5h-1zM211 318h1v5h-1zM210 326h2v5h-2zM211 333h1v5h-1zM212 289h1v4h-1zM212 303h1v5h-1zM212 281h2v5h-2zM213 288h1v6h-1zM213 304h1v5h-1zM211 296h4v5h-4zM214 303h1v5h-1zM211 311h4v5h-4zM214 319h1v5h-1zM214 334h1v4h-1zM215 318h1v5h-1zM214 326h2v5h-2zM215 333h1v6h-1zM215 349h1v5h-1zM216 348h1v5h-1zM216 364h1v5h-1zM217 327h1v4h-1zM217 334h1v5h-1zM217 349h1v5h-1zM215 356h3v5h-3zM217 363h1v5h-1zM218 297h1v4h-1zM218 304h1v5h-1zM218 319h1v5h-1zM218 326h1v5h-1zM218 333h1v5h-1zM215 341h4v5h-4zM218 348h1v5h-1zM218 356h1v1h-1zM219 289h1v5h-1zM219 303h1v5h-1zM219 318h1v5h-1zM219 326h1v1h-1zM219 281h2v5h-2zM220 288h1v6h-1zM220 304h1v5h-1zM219 296h3v5h-3zM221 303h1v5h-1zM218 311h4v5h-4zM221 319h1v5h-1zM221 334h1v4h-1zM222 318h1v5h-1zM221 326h2v5h-2zM222 333h1v6h-1zM222 349h1v5h-1zM223 348h1v5h-1zM223 364h1v5h-1zM224 338h1v1h-1zM224 349h1v5h-1zM224 363h1v5h-1zM225 319h1v5h-1zM225 334h1v4h-1zM222 341h4v5h-4zM225 348h1v5h-1zM222 356h4v5h-4zM226 293h1v1h-1zM226 304h1v5h-1zM226 318h1v5h-1zM225 326h2v5h-2zM226 333h1v5h-1zM227 281h1v5h-1zM227 289h1v4h-1zM226 296h2v5h-2zM227 303h1v5h-1zM226 311h2v5h-2zM228 280h1v6h-1zM228 288h1v5h-1zM229 280h1v2h-1zM230 289h1v4h-1zM230 280h2v6h-2zM231 288h1v6h-1zM231 304h1v5h-1zM231 296h2v5h-2zM232 303h1v5h-1zM231 311h2v5h-2zM232 319h1v5h-1zM232 334h1v4h-1zM233 318h1v5h-1zM232 326h2v5h-2zM233 333h1v6h-1zM233 349h1v5h-1zM233 356h1v5h-1zM233 341h2v5h-2zM234 348h1v2h-1zM236 350h1v3h-1zM236 356h1v5h-1zM237 305h1v4h-1zM237 318h1v5h-1zM237 326h1v5h-1zM237 333h1v5h-1zM238 281h1v5h-1zM238 289h1v5h-1zM238 303h1v5h-1zM239 282h1v4h-1zM239 288h1v5h-1zM238 296h2v5h-2zM239 304h1v5h-1zM237 311h3v5h-3zM239 319h1v5h-1zM239 326h1v1h-1zM240 342h1v4h-1zM240 349h1v5h-1zM240 356h1v1h-1zM243 350h1v3h-1zM243 356h1v5h-1zM244 305h1v4h-1zM244 318h1v5h-1zM244 326h1v5h-1zM244 333h1v5h-1zM245 289h1v4h-1zM245 303h1v5h-1zM245 281h2v5h-2zM246 288h1v6h-1zM245 296h2v5h-2zM246 304h1v5h-1zM247 305h1v3h-1zM244 311h4v5h-4zM247 319h1v5h-1zM247 326h1v5h-1zM247 334h1v4h-1zM248 350h1v4h-1zM248 356h1v5h-1zM252 364h1v5h-1zM253 338h1v1h-1zM253 349h1v5h-1zM253 363h1v5h-1zM254 319h1v5h-1zM254 334h1v4h-1zM253 341h2v5h-2zM254 348h1v5h-1zM253 356h2v5h-2zM255 293h1v1h-1zM255 304h1v5h-1zM255 318h1v5h-1zM254 326h2v5h-2zM255 333h1v5h-1zM256 289h1v4h-1zM256 303h1v5h-1zM256 281h2v5h-2zM257 288h1v6h-1zM257 304h1v5h-1zM255 296h4v5h-4zM258 303h1v5h-1zM255 311h4v5h-4zM258 319h1v5h-1zM258 334h1v4h-1zM259 318h1v5h-1zM258 326h2v5h-2zM259 333h1v6h-1zM259 349h1v5h-1zM260 348h1v5h-1zM260 364h1v5h-1zM261 327h1v4h-1zM261 334h1v5h-1zM261 349h1v5h-1zM259 356h3v5h-3zM261 363h1v5h-1zM262 297h1v4h-1zM262 304h1v5h-1zM262 319h1v5h-1zM262 326h1v5h-1zM262 333h1v5h-1zM259 341h4v5h-4zM262 348h1v5h-1zM262 356h1v1h-1zM263 289h1v5h-1zM263 303h1v5h-1zM263 318h1v5h-1zM263 326h1v1h-1zM263 281h2v5h-2zM264 288h1v6h-1zM264 304h1v5h-1zM263 296h3v5h-3zM265 303h1v5h-1zM262 311h4v5h-4zM265 319h1v5h-1zM265 334h1v4h-1zM266 318h1v5h-1zM265 326h2v5h-2zM266 333h1v6h-1zM266 341h1v5h-1zM266 349h1v5h-1zM266 356h1v5h-1zM269 327h1v3h-1zM269 332h1v5h-1zM270 237h1v3h-1zM270 242h1v5h-1zM270 250h1v5h-1zM270 257h1v5h-1zM270 265h1v5h-1zM271 146h1v4h-1zM271 152h1v5h-1zM271 160h1v5h-1zM271 167h1v5h-1zM271 175h1v5h-1zM271 182h1v5h-1zM271 190h1v5h-1zM271 197h1v5h-1zM275 248h1v1h-1zM275 257h1v7h-1zM275 265h1v6h-1zM275 272h1v6h-1zM275 280h1v2h-1zM276 225h1v1h-1zM276 229h1v5h-1zM276 236h1v5h-1zM276 244h1v4h-1zM275 251h2v5h-2zM276 258h1v1h-1zM277 203h1v1h-1zM277 206h1v5h-1zM283 327h1v4h-1zM283 334h1v5h-1zM283 349h1v1h-1zM284 297h1v4h-1zM284 304h1v5h-1zM284 319h1v5h-1zM284 326h1v5h-1zM284 333h1v5h-1zM283 341h2v5h-2zM284 348h1v5h-1zM284 356h1v1h-1zM285 281h1v5h-1zM285 289h1v5h-1zM285 296h1v5h-1zM285 303h1v5h-1zM284 311h2v5h-2zM285 318h1v5h-1zM285 326h1v1h-1zM286 280h1v6h-1zM286 288h1v5h-1zM286 296h1v1h-1zM289 289h1v4h-1zM289 280h2v6h-2zM290 288h1v6h-1zM290 296h1v5h-1zM290 304h1v5h-1zM291 305h1v3h-1zM290 311h2v5h-2zM291 319h1v5h-1zM291 326h1v5h-1zM291 334h1v4h-1zM292 350h1v4h-1zM292 356h1v5h-1zM294 338h1v1h-1zM294 349h1v1h-1zM295 319h1v5h-1zM295 334h1v4h-1zM294 341h2v5h-2zM295 348h1v5h-1zM295 356h1v5h-1zM296 293h1v1h-1zM296 304h1v5h-1zM296 318h1v5h-1zM295 326h2v5h-2zM296 333h1v5h-1zM297 281h1v5h-1zM297 289h1v4h-1zM296 296h2v5h-2zM297 303h1v5h-1zM296 311h2v5h-2zM298 280h1v6h-1zM298 288h1v5h-1zM299 280h1v2h-1zM300 289h1v4h-1zM300 280h2v6h-2zM301 288h1v6h-1zM301 304h1v5h-1zM301 296h2v5h-2zM302 303h1v5h-1zM301 311h2v5h-2zM302 319h1v5h-1zM302 334h1v4h-1zM303 318h1v5h-1zM302 326h2v5h-2zM303 333h1v6h-1zM303 349h1v5h-1zM303 341h2v5h-2zM304 348h1v5h-1zM303 356h2v5h-2zM304 364h1v5h-1zM305 363h1v5h-1zM308 357h1v4h-1zM308 364h1v5h-1zM309 327h1v4h-1zM309 334h1v5h-1zM309 349h1v5h-1zM309 356h1v5h-1zM309 363h1v5h-1zM310 297h1v4h-1zM310 304h1v5h-1zM310 319h1v5h-1zM310 326h1v5h-1zM310 333h1v5h-1zM309 341h2v5h-2zM310 348h1v5h-1zM310 356h1v1h-1zM311 281h1v5h-1zM311 289h1v5h-1zM311 296h1v5h-1zM311 303h1v5h-1zM310 311h2v5h-2zM311 318h1v5h-1zM311 326h1v1h-1zM312 280h1v6h-1zM312 288h1v5h-1zM312 296h1v1h-1zM313 280h2v2h-2zM315 289h1v4h-1zM315 280h2v6h-2zM316 288h1v6h-1zM316 304h1v5h-1zM316 296h2v5h-2zM317 303h1v5h-1zM316 311h2v5h-2zM317 319h1v5h-1zM317 334h1v4h-1zM318 318h1v5h-1zM317 326h2v5h-2zM318 333h1v6h-1zM318 349h1v5h-1zM318 341h2v5h-2zM319 348h1v5h-1zM318 356h2v5h-2zM319 364h1v5h-1zM320 363h1v5h-1zM424 342h1v4h-1zM424 348h1v5h-1zM424 356h1v1h-1zM425 282h1v4h-1zM425 289h1v5h-1zM425 303h1v5h-1zM425 318h1v5h-1zM425 326h1v1h-1zM426 281h1v5h-1zM426 288h1v6h-1zM425 296h2v5h-2zM426 304h1v5h-1zM427 305h1v3h-1zM425 311h3v5h-3zM427 319h1v5h-1zM427 326h1v5h-1zM427 334h1v4h-1zM428 350h1v4h-1zM428 356h1v5h-1zM506 364h1v5h-1zM507 338h1v1h-1zM507 349h1v5h-1zM507 363h1v5h-1zM508 319h1v5h-1zM508 334h1v4h-1zM507 341h2v5h-2zM508 348h1v5h-1zM507 356h2v5h-2zM509 293h1v1h-1zM509 304h1v5h-1zM509 318h1v5h-1zM508 326h2v5h-2zM509 333h1v5h-1zM510 289h1v4h-1zM510 303h1v5h-1zM510 281h2v5h-2zM511 288h1v6h-1zM511 304h1v5h-1zM509 296h4v5h-4zM512 303h1v5h-1zM509 311h4v5h-4zM512 319h1v5h-1zM512 334h1v4h-1zM513 318h1v5h-1zM512 326h2v5h-2zM513 333h1v6h-1zM513 349h1v5h-1zM513 341h2v5h-2zM514 348h1v5h-1zM513 356h2v5h-2zM514 364h1v5h-1zM515 363h1v5h-1z"/>
<path fill="#0000bb" d="M40 371h17v2h-17zM57 350h1v23h-1zM58 305h1v68h-1zM59 259h1v91h-1zM60 214h1v91h-1zM61 191h1v68h-1zM62 190h1v24h-1zM63 190h9v2h-9zM72 190h1v24h-1zM73 190h1v69h-1zM74 214h1v91h-1zM75 259h1v91h-1zM76 305h1v68h-1zM77 350h1v23h-1zM78 371h9v2h-9zM87 350h1v23h-1zM88 305h1v68h-1zM89 259h1v91h-1zM90 214h1v91h-1zM91 191h1v68h-1zM92 191h1v91h-1zM93 222h1v120h-1zM94 282h1v91h-1zM95 342h1v31h-1zM96 371h5v2h-5zM101 350h1v23h-1zM102 305h1v68h-1zM103 259h1v91h-1zM104 214h1v91h-1zM105 191h2v68h-2zM107 214h1v91h-1zM108 259h1v91h-1zM109 305h1v68h-1zM110 350h1v23h-1zM111 371h5v2h-5zM116 350h1v23h-1zM117 305h1v68h-1zM118 259h1v91h-1zM119 214h1v91h-1zM120 191h1v68h-1zM121 190h1v24h-1zM122 190h5v2h-5zM127 169h1v23h-1zM128 124h1v68h-1zM129 78h1v91h-1zM130 33h1v91h-1zM131 10h2v68h-2zM133 33h1v91h-1zM134 78h1v91h-1zM135 124h1v98h-1zM136 169h1v113h-1zM137 222h1v120h-1zM138 282h1v91h-1zM139 305h1v68h-1zM140 259h1v91h-1zM141 214h1v91h-1zM142 191h2v68h-2zM144 214h1v91h-1zM145 259h1v91h-1zM146 305h1v68h-1zM147 282h1v91h-1zM148 222h1v120h-1zM149 191h1v91h-1zM150 191h1v68h-1zM151 214h1v91h-1zM152 259h1v91h-1zM153 305h1v68h-1zM154 350h1v23h-1zM155 371h2v2h-2zM157 342h1v31h-1zM158 282h1v91h-1zM159 222h1v120h-1zM160 191h1v91h-1zM161 190h1v32h-1zM162 190h2v2h-2zM164 190h1v24h-1zM165 190h1v69h-1zM166 214h1v91h-1zM167 259h1v91h-1zM168 305h2v68h-2zM170 259h1v91h-1zM171 214h1v91h-1zM172 191h1v68h-1zM173 191h1v91h-1zM174 222h1v120h-1zM175 282h1v91h-1zM176 342h1v31h-1zM177 371h6v2h-6zM183 312h1v61h-1zM184 191h1v182h-1zM185 71h1v241h-1zM186 10h1v181h-1zM187 10h1v136h-1zM188 56h1v181h-1zM189 146h1v181h-1zM190 237h1v136h-1zM191 327h1v46h-1zM192 371h1v2h-1zM193 350h1v23h-1zM194 305h1v68h-1zM195 259h1v91h-1zM196 214h1v91h-1zM197 191h2v68h-2zM199 214h1v91h-1zM200 259h1v91h-1zM201 305h1v68h-1zM202 350h1v23h-1zM203 371h31v2h-31zM234 350h1v23h-1zM235 305h1v68h-1zM236 259h1v91h-1zM237 214h1v91h-1zM238 191h1v68h-1zM239 191h1v91h-1zM240 222h1v120h-1zM241 282h1v91h-1zM242 305h1v68h-1zM243 259h1v91h-1zM244 214h1v91h-1zM245 191h2v68h-2zM247 214h1v91h-1zM248 259h1v91h-1zM249 305h1v68h-1zM250 350h1v23h-1zM251 371h16v2h-16zM267 327h1v46h-1zM268 237h1v136h-1zM269 146h1v181h-1zM270 56h1v181h-1zM271 10h1v136h-1zM272 10h1v181h-1zM273 71h1v241h-1zM274 191h1v182h-1zM275 305h1v68h-1zM276 259h1v91h-1zM277 214h1v91h-1zM278 191h2v68h-2zM280 214h1v91h-1zM281 259h1v91h-1zM282 305h1v68h-1zM283 350h1v23h-1zM284 371h1v2h-1zM285 350h1v23h-1zM286 305h1v68h-1zM287 259h1v91h-1zM288 214h1v91h-1zM289 191h2v68h-2zM291 214h1v91h-1zM292 259h1v91h-1zM293 305h1v68h-1zM294 350h1v23h-1zM303 416h22v2h-22zM295 371h127v2h-127zM422 342h1v31h-1zM423 282h1v91h-1zM424 222h1v120h-1zM425 191h1v91h-1zM426 191h1v68h-1zM427 214h1v91h-1zM428 259h1v91h-1zM429 305h1v68h-1zM430 350h1v23h-1zM431 371h129v2h-129z"/>
</g>
<g>
<text x="16" y="388" textLength="49">2013-11</text>
<text x="71" y="388" textLength="49">2015-02</text>
<text x="126" y="388" textLength="49">2016-05</text>
<text x="181" y="388" textLength="49">2017-08</text>
<text x="236" y="388" textLength="49">2018-11</text>
<text x="292" y="388" textLength="49">2020-02</text>
<text x="347" y="388" textLength="49">2021-05</text>
<text x="402" y="388" textLength="49">2022-08</text>
<text x="457" y="388" textLength="49">2023-11</text>
<text x="513" y="388" textLength="49">2025-02</text>
<text x="29" y="13" textLength="7">4</text>
<text x="29" y="194" textLength="7">2</text>
<text x="29" y="375" textLength="7">0</text>
<text x="565" y="13" textLength="7">2</text>
<text x="565" y="375" textLength="7">0</text>
<text x="191" y="421" textLength="98">Abstract Views</text>
<text x="331" y="421" textLength="98">File Downloads</text>
<text class="g" transform="translate(19,264) rotate(-90)" textLength="144"># Abstract Views</text>
<text class="g" transform="translate(589,268) rotate(-90)" textLength="144"># File Downloads</text>
</g>
</svg>
</body></html>
